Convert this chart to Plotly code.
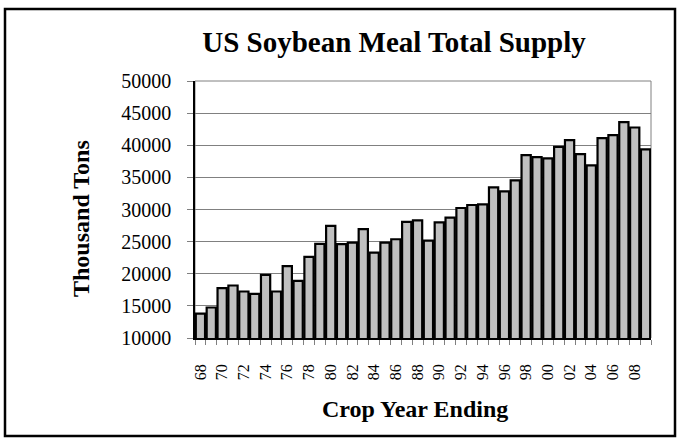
import plotly.graph_objects as go

# crop year ending 1968 .. 2009
years = list(range(1968, 2010))
supply = [
    13800, 14750, 17760, 18170, 17240, 16880, 19830, 17240, 21180, 18900,
    22620, 24640, 27440, 24600, 24850, 26930, 23290, 24850, 25370, 28060,
    28320, 25160, 28010, 28730, 30230, 30700, 30810, 33450, 32830, 34530,
    38460, 38150, 37950, 39750, 40790, 38620, 36860, 41100, 41570, 43590,
    42760, 39350,
]
tick_years = years[::2]
tick_labels = [str(y)[2:] for y in tick_years]
y_ticks = [10000, 15000, 20000, 25000, 30000, 35000, 40000, 45000, 50000]

FONT = "Liberation Serif"
W, H = 679, 440
L, R, T, B = 195, 28, 81, 102
pw, ph = W - L - R, H - T - B


def px_x(x):
    return (x - L) / pw


def px_y(y):
    return (H - B - y) / ph


fig = go.Figure()
fig.add_trace(go.Bar(
    x=years, y=supply,
    marker=dict(color="#c0c0c0", line=dict(color="black", width=2.2)),
    hoverinfo="x+y",
))

fig.update_layout(
    width=W, height=H,
    margin=dict(l=L, r=R, t=T, b=B),
    paper_bgcolor="white", plot_bgcolor="white",
    showlegend=False,
    bargap=0.15,
    font=dict(family=FONT, color="black"),
    title=dict(
        text="<b>US Soybean Meal Total Supply</b>",
        font=dict(family=FONT, size=29, color="black"),
        x=394 / W, xanchor="center", xref="container",
        y=1 - 42 / H, yanchor="middle", yref="container",
    ),
    xaxis=dict(
        range=[years[0] - 0.5, years[-1] + 0.5],
        tickmode="array", tickvals=tick_years, ticktext=tick_labels,
        tickangle=-90, ticks="", ticklabelstandoff=18,
        tickfont=dict(family=FONT, size=16, color="black"),
        showgrid=False, zeroline=False,
        showline=True, linecolor="black", linewidth=1.5,
        minor=dict(tick0=years[0] - 0.5, dtick=1, ticks="outside",
                   ticklen=5, tickcolor="#808080", tickwidth=1, showgrid=False),
    ),
    yaxis=dict(
        range=[y_ticks[0], y_ticks[-1]],
        tickmode="array", tickvals=y_ticks, tickformat="d",
        ticks="outside", ticklen=6, tickcolor="#808080", ticklabelstandoff=12,
        tickfont=dict(family=FONT, size=20, color="black"),
        showgrid=True, gridcolor="#808080", gridwidth=1,
        zeroline=False,
        showline=True, linecolor="black", linewidth=1.5,
    ),
    annotations=[
        dict(text="<b>Thousand Tons</b>", textangle=-90,
             xref="paper", yref="paper", x=px_x(81), y=px_y(219),
             xanchor="center", yanchor="middle", showarrow=False,
             font=dict(family=FONT, size=24, color="black")),
        dict(text="<b>Crop Year Ending</b>",
             xref="paper", yref="paper", x=px_x(415), y=px_y(409),
             xanchor="center", yanchor="middle", showarrow=False,
             font=dict(family=FONT, size=24, color="black")),
    ],
    shapes=[
        # grey frame of the plot area
        dict(type="rect", xref="paper", yref="paper", x0=0, x1=1, y0=0, y1=1,
             line=dict(color="#808080", width=1), layer="below"),
        # outer chart border
        dict(type="rect", xref="paper", yref="paper",
             x0=px_x(5), x1=px_x(675), y0=px_y(436), y1=px_y(9),
             line=dict(color="black", width=2.5)),
    ],
)

# drop the default 8px body margin so the chart sits at the page corner
fig.write_html("out.html", config={"displayModeBar": False},
               post_script="document.body.style.margin='0';")
